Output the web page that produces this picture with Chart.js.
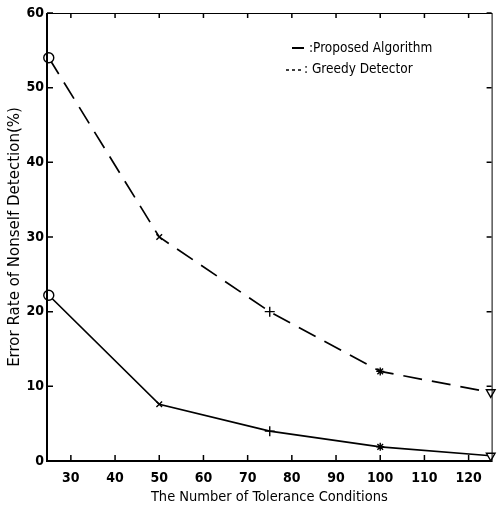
<!DOCTYPE html>
<html>
<head>
<meta charset="utf-8">
<script src="https://cdn.jsdelivr.net/npm/chart.js@4/dist/chart.umd.min.js"></script>
<style>
  html, body { margin: 0; padding: 0; background: #fff; }
  #wrap { width: 498px; height: 509px; }
</style>
</head>
<body>
<div id="wrap"><canvas id="chart" width="498" height="509"></canvas></div>
<script>
// values
var toleranceConditions = [25, 50, 75, 100, 125];
var proposedRate = [54, 30, 20, 12, 9.2];
var greedyRate = [22.2, 7.6, 4.0, 1.9, 0.7];
var xTickValues = [30, 40, 50, 60, 70, 80, 90, 100, 110, 120];
var yTickValues = [0, 10, 20, 30, 40, 50, 60];
var markerStyles = ['circle', 'crossRot', 'cross', 'star', 'triangle'];
var markerRotation = [0, 0, 0, 0, 180];
var markerSize = [5, 4, 5, 4, 5];

var narrow = "'DejaVu Sans Condensed', 'Liberation Sans', Arial, sans-serif";

function toPoints(xs, ys) {
    return xs.map(function(x, i) { return {x: x, y: ys[i]}; });
}

// box round the plot with inward ticks, like the old matlab figure
var boxPlugin = {
    id: 'boxTicks',
    afterDraw: function(chart) {
        var ctx = chart.ctx;
        var a = chart.chartArea;
        var xs = chart.scales.x, ys = chart.scales.y;
        ctx.save();
        ctx.strokeStyle = '#000';
        ctx.lineWidth = 1;
        ctx.strokeRect(a.left + 0.5, a.top + 0.5, a.right - a.left, a.bottom - a.top);
        ctx.lineWidth = 2;
        ctx.beginPath();
        ctx.moveTo(a.left, a.top);
        ctx.lineTo(a.left, a.bottom);
        ctx.lineTo(a.right, a.bottom);
        ctx.stroke();
        ctx.lineWidth = 1.5;
        ctx.beginPath();
        xTickValues.forEach(function(v) {
            var px = xs.getPixelForValue(v);
            ctx.moveTo(px, a.bottom);
            ctx.lineTo(px, a.bottom - 6);
            ctx.moveTo(px, a.top);
            ctx.lineTo(px, a.top + 5);
        });
        yTickValues.forEach(function(v) {
            var py = ys.getPixelForValue(v);
            ctx.moveTo(a.left, py);
            ctx.lineTo(a.left + 6, py);
            ctx.moveTo(a.right, py);
            ctx.lineTo(a.right - 5, py);
        });
        ctx.stroke();

        // legend drawn inside the plot
        ctx.fillStyle = '#000';
        ctx.font = "13.5px " + narrow;
        ctx.textBaseline = 'middle';
        ctx.textAlign = 'left';
        ctx.lineWidth = 2;
        ctx.beginPath();
        ctx.moveTo(292, 48);
        ctx.lineTo(304, 48);
        ctx.stroke();
        ctx.fillText(':Proposed Algorithm', 309, 48);
        ctx.lineWidth = 1.5;
        ctx.setLineDash([3, 3]);
        ctx.beginPath();
        ctx.moveTo(286, 70);
        ctx.lineTo(302, 70);
        ctx.stroke();
        ctx.setLineDash([]);
        ctx.fillText(': Greedy Detector', 304, 69);
        ctx.restore();
    }
};

var config = {
    type: 'line',
    data: {
        datasets: [{
            label: 'Proposed Algorithm',
            data: toPoints(toleranceConditions, proposedRate),
            borderColor: '#000',
            backgroundColor: '#fff',
            borderWidth: 1.7,
            borderDash: [19, 10],
            pointStyle: markerStyles,
            pointRotation: markerRotation,
            pointRadius: markerSize,
            pointBorderWidth: 1.4,
            pointBorderColor: '#000',
            fill: false,
            tension: 0
        }, {
            label: 'Greedy Detector',
            data: toPoints(toleranceConditions, greedyRate),
            borderColor: '#000',
            backgroundColor: '#fff',
            borderWidth: 1.7,
            pointStyle: markerStyles,
            pointRotation: markerRotation,
            pointRadius: markerSize,
            pointBorderWidth: 1.4,
            pointBorderColor: '#000',
            fill: false,
            tension: 0
        }]
    },
    options: {
        responsive: false,
        animation: false,
        clip: false,
        layout: { padding: { top: 13, right: 3, left: 0, bottom: 0 } },
        plugins: {
            legend: { display: false },
            tooltip: { enabled: false }
        },
        scales: {
            x: {
                type: 'linear',
                min: 24.6,
                max: 125.2,
                afterBuildTicks: function(scale) {
                    scale.ticks = xTickValues.map(function(v) { return {value: v}; });
                },
                afterFit: function(scale) { scale.height = 48; },
                grid: { display: false, drawTicks: false },
                border: { display: false },
                ticks: {
                    color: '#000',
                    font: { family: narrow, size: 14, weight: 'bold' },
                    padding: 9
                },
                title: {
                    display: true,
                    text: 'The Number of Tolerance Conditions',
                    color: '#000',
                    font: { family: narrow, size: 14.5 },
                    padding: { top: 0, bottom: 3 }
                }
            },
            y: {
                type: 'linear',
                min: 0,
                max: 60,
                afterBuildTicks: function(scale) {
                    scale.ticks = yTickValues.map(function(v) { return {value: v}; });
                },
                afterFit: function(scale) { scale.width = 47; },
                grid: { display: false, drawTicks: false },
                border: { display: false },
                ticks: {
                    color: '#000',
                    font: { family: narrow, size: 14, weight: 'bold' },
                    padding: 3
                },
                title: {
                    display: true,
                    text: 'Error Rate of Nonself Detection(%)',
                    color: '#000',
                    font: { family: "'DejaVu Sans', 'Liberation Sans', Arial, sans-serif", size: 15 },
                    padding: { top: 6, bottom: 0 }
                }
            }
        }
    },
    plugins: [boxPlugin]
};

new Chart(document.getElementById('chart').getContext('2d'), config);
</script>
</body>
</html>
